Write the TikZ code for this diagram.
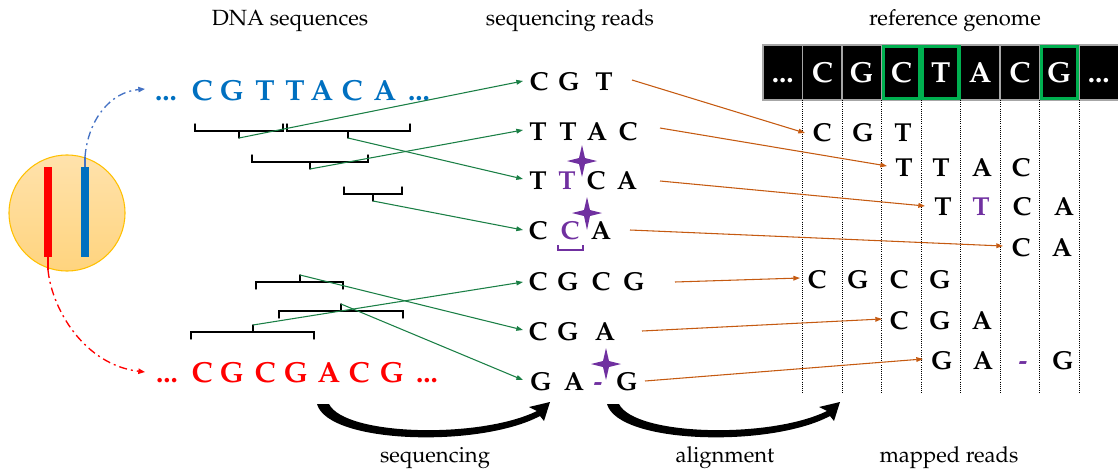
\documentclass[tikz,border=0pt]{standalone}
\usepackage[T1]{fontenc}
\usepackage{mathpazo}
\usetikzlibrary{arrows.meta}
\definecolor{seqblue}{HTML}{0070C0}
\definecolor{seqred}{HTML}{FF0000}
\definecolor{mut}{HTML}{7030A0}
\definecolor{readgreen}{HTML}{1A7F45}
\definecolor{mapor}{HTML}{C55A11}
\definecolor{boxgreen}{HTML}{00B050}
\definecolor{linkblue}{HTML}{4472C4}
\definecolor{cellgray}{HTML}{A6A6A6}
\definecolor{nucA}{HTML}{FFE2AC}
\definecolor{nucB}{HTML}{FFD47E}
\definecolor{nucrim}{HTML}{FFC000}

% continuation dots of a sequence
\newcommand{\seqdots}{...}
% bracket over a stretch of sequence; tip points down (#5 names the tip)
\newcommand{\spandown}[5]{%
  \draw[bracket] (#1,#4-7) -- (#1,#4) -- (#2,#4) -- (#2,#4-7);
  \draw[bracket] (#3,#4) -- (#3,#4+7) coordinate (#5);}
% bracket under a stretch of sequence; tip points up
\newcommand{\spanup}[5]{%
  \draw[bracket] (#1,#4+7) -- (#1,#4) -- (#2,#4) -- (#2,#4+7);
  \draw[bracket] (#3,#4) -- (#3,#4-7) coordinate (#5);}
% four-pointed marker for an error
\newcommand{\errmark}[3]{%
  \fill[mut] (#1,#2) +(0,-16) -- +(3,-3) -- +(15,0) -- +(3,3) -- +(0,#3)
    -- +(-3,3) -- +(-15,0) -- +(-3,-3) -- cycle;}

\begin{document}
\begin{tikzpicture}[x=0.75pt,y=-0.75pt,
  lab/.style={font=\fontsize{16.5}{18}\selectfont, anchor=base, inner sep=0pt},
  seqltr/.style={font=\fontsize{21.75}{24}\selectfont\bfseries, anchor=base, inner sep=0pt},
  readltr/.style={font=\fontsize{19.5}{22}\selectfont\bfseries, anchor=base, inner sep=0pt},
  refltr/.style={font=\fontsize{21.75}{24}\selectfont\bfseries, anchor=base, inner sep=0pt, text=white},
  bracket/.style={draw=black, line width=1.1pt, line cap=round},
  readlink/.style={draw=readgreen, line width=0.8pt, -{Triangle[length=5pt,width=3.5pt]}},
  maplink/.style={draw=mapor, line width=0.8pt, -{Triangle[length=5pt,width=3.5pt]}},
  strandlink/.style={line width=1pt, dash pattern=on 6pt off 3pt on 1.5pt off 3pt,
    -{Triangle[length=5pt,width=4pt]}},
  refcell/.style={fill=black, draw=cellgray, line width=0.8pt},
  hit/.style={draw=boxgreen, line width=2.4pt},
  guide/.style={draw=black, line width=0.6pt, densely dotted},
]
\useasboundingbox (0,0) rectangle (1118,471);

% ---------- headings ----------
\node[lab] (hdna)  at (290,26) {DNA sequences};
\node[lab] (hread) at (570,26) {sequencing reads};
\node[lab] (href)  at (955,26) {reference genome};
\node[lab] (fseq)  at (435,462) {sequencing};
\node[lab] (faln)  at (725,462) {alignment};
\node[lab] (fmap)  at (949,462) {mapped reads};

% ---------- nucleus with the two strands ----------
\node[circle, minimum size=87pt, inner sep=0pt, draw=nucrim, line width=0.8pt,
      top color=nucA, bottom color=nucB] (nucleus) at (67,213) {};
\fill[seqred]  (44,167) rectangle (52,257);
\fill[seqblue] (81,167) rectangle (89,257);
\coordinate (bluetop) at (85,167);
\coordinate (redbot)  at (48,257);

% ---------- DNA sequences ----------
\foreach \t/\x [count=\k] in {\seqdots/166,C/202,G/232,T/265,T/295,A/322,C/352,A/385,\seqdots/419}
  \node[seqltr, text=seqblue] (b\k) at (\x,100) {\t};
\foreach \t/\x [count=\k] in {\seqdots/167,C/202,G/232,C/265,G/296,A/329,C/359,G/392,\seqdots/427}
  \node[seqltr, text=seqred] (s\k) at (\x,382) {\t};

\coordinate (bluein) at (145,89);
\coordinate (redin)  at (145,372);
\draw[linkblue, line width=1pt] (bluetop) -- (85,157) coordinate (bluebend);
\draw[strandlink, linkblue] (bluebend) .. controls (88,120) and (110,92) .. (bluein);
\draw[seqred, line width=1pt] (redbot) -- (48,270) coordinate (redbend);
\draw[strandlink, seqred] (redbend) .. controls (52,310) and (85,365) .. (redin);

% ---------- fragments ----------
\spandown{195}{283}{239}{131}{f1}
\spandown{287}{410}{348}{131}{f2}
\spandown{252}{368}{310}{162}{f3}
\spandown{344}{402}{373}{194}{f4}
\spanup{256}{343}{300}{282}{f6}
\spanup{279}{403}{341}{311}{f7}
\spanup{191}{314}{253}{332}{f5}

% ---------- sequencing reads ----------
\foreach \t/\x [count=\k] in {C/539,G/569,T/604}
  \node[readltr] (r1l\k) at (\x,90) {\t};
\foreach \t/\x [count=\k] in {T/538,T/568,A/597,C/628}
  \node[readltr] (r2l\k) at (\x,140) {\t};
\foreach \t/\x [count=\k] in {T/538,{\textcolor{mut}{T}}/567,C/596,A/627}
  \node[readltr] (r3l\k) at (\x,189) {\t};
\foreach \t/\x [count=\k] in {C/538,{\textcolor{mut}{C}}/570,A/601}
  \node[readltr] (r4l\k) at (\x,239) {\t};
\foreach \t/\x [count=\k] in {C/538,G/568,C/601,G/634}
  \node[readltr] (r5l\k) at (\x,290) {\t};
\foreach \t/\x [count=\k] in {C/538,G/568,A/605}
  \node[readltr] (r6l\k) at (\x,340) {\t};
\foreach \t/\x [count=\k] in {G/541,A/574,{\textcolor{mut}{-}}/598,G/627}
  \node[readltr] (r7l\k) at (\x,390) {\t};

\foreach \y [count=\k] in {81,130,179,230,282,330,380}
  \coordinate (rin\k) at (523,\y);

\draw[readlink] (f1) -- (rin1);
\draw[readlink] (f3) -- (rin2);
\draw[readlink] (f2) -- (rin3);
\draw[readlink] (f4) -- (rin4);
\draw[readlink] (f5) -- (rin5);
\draw[readlink] (f6) -- (rin6);
\draw[readlink] (f7) -- (rin7);

% error markers
\errmark{582}{161}{16}
\errmark{587}{213}{17}
\errmark{606}{364}{16}
\draw[mut, line width=1.6pt] (558,245) -- (558,250) -- (583,250) -- (583,245);

% ---------- reference genome ----------
\foreach \t [count=\k from 0] in {\seqdots,C,G,C,T,A,C,G,\seqdots} {
  \path[refcell] (763+39.5*\k,45) rectangle (763+39.5*\k+39.5,100);
  \node[refltr] (g\k) at (782.75+39.5*\k,82) {\t};
}
\foreach \k in {3,4,7}
  \draw[hit] (763+39.5*\k+1.6,46.2) rectangle (763+39.5*\k+37.9,98.8);
\foreach \k in {1,...,8}
  \draw[guide] (763+39.5*\k,100) -- (763+39.5*\k,394);

% ---------- mapped reads ----------
\foreach \t/\x [count=\k] in {C/822,G/863,T/903}
  \node[readltr] (m1l\k) at (\x,141) {\t};
\foreach \t/\x [count=\k] in {T/904,T/941,A/982,C/1021}
  \node[readltr] (m2l\k) at (\x,176) {\t};
\foreach \t/\x [count=\k] in {T/943,{\textcolor{mut}{T}}/981,C/1022,A/1064}
  \node[readltr] (m3l\k) at (\x,215) {\t};
\foreach \t/\x [count=\k] in {C/1021,A/1062}
  \node[readltr] (m4l\k) at (\x,256) {\t};
\foreach \t/\x [count=\k] in {C/817,G/858,C/899,G/940}
  \node[readltr] (m5l\k) at (\x,288) {\t};
\foreach \t/\x [count=\k] in {C/899,G/940,A/982}
  \node[readltr] (m6l\k) at (\x,329) {\t};
\foreach \t/\x [count=\k] in {G/942,A/983,{\textcolor{mut}{-}}/1023,G/1063}
  \node[readltr] (m7l\k) at (\x,369) {\t};

\foreach \x/\y [count=\k] in {632/80,660/128,660/181,630/230,675/282,642/331,645/381}
  \coordinate (rout\k) at (\x,\y);
\foreach \x/\y [count=\k] in {805/133,887/166,925/206,1003/246,800/278,882/319,923/359}
  \coordinate (min\k) at (\x,\y);
\foreach \k in {1,...,7}
  \draw[maplink] (rout\k) -- (min\k);

% ---------- process arrows ----------
\foreach \dx/\nm in {0/seqstep,290/alnstep} {
  \begin{scope}[shift={(\dx,0)}]
    \fill[black] (317,404) .. controls (328,444) and (480,448) .. (540,416)
      -- (544,421) -- (550,402) -- (529,407) -- (537,411)
      .. controls (480,439) and (345,436) .. (329,404) -- cycle;
    \coordinate (\nm) at (435,440);
  \end{scope}
}
\end{tikzpicture}
\end{document}
